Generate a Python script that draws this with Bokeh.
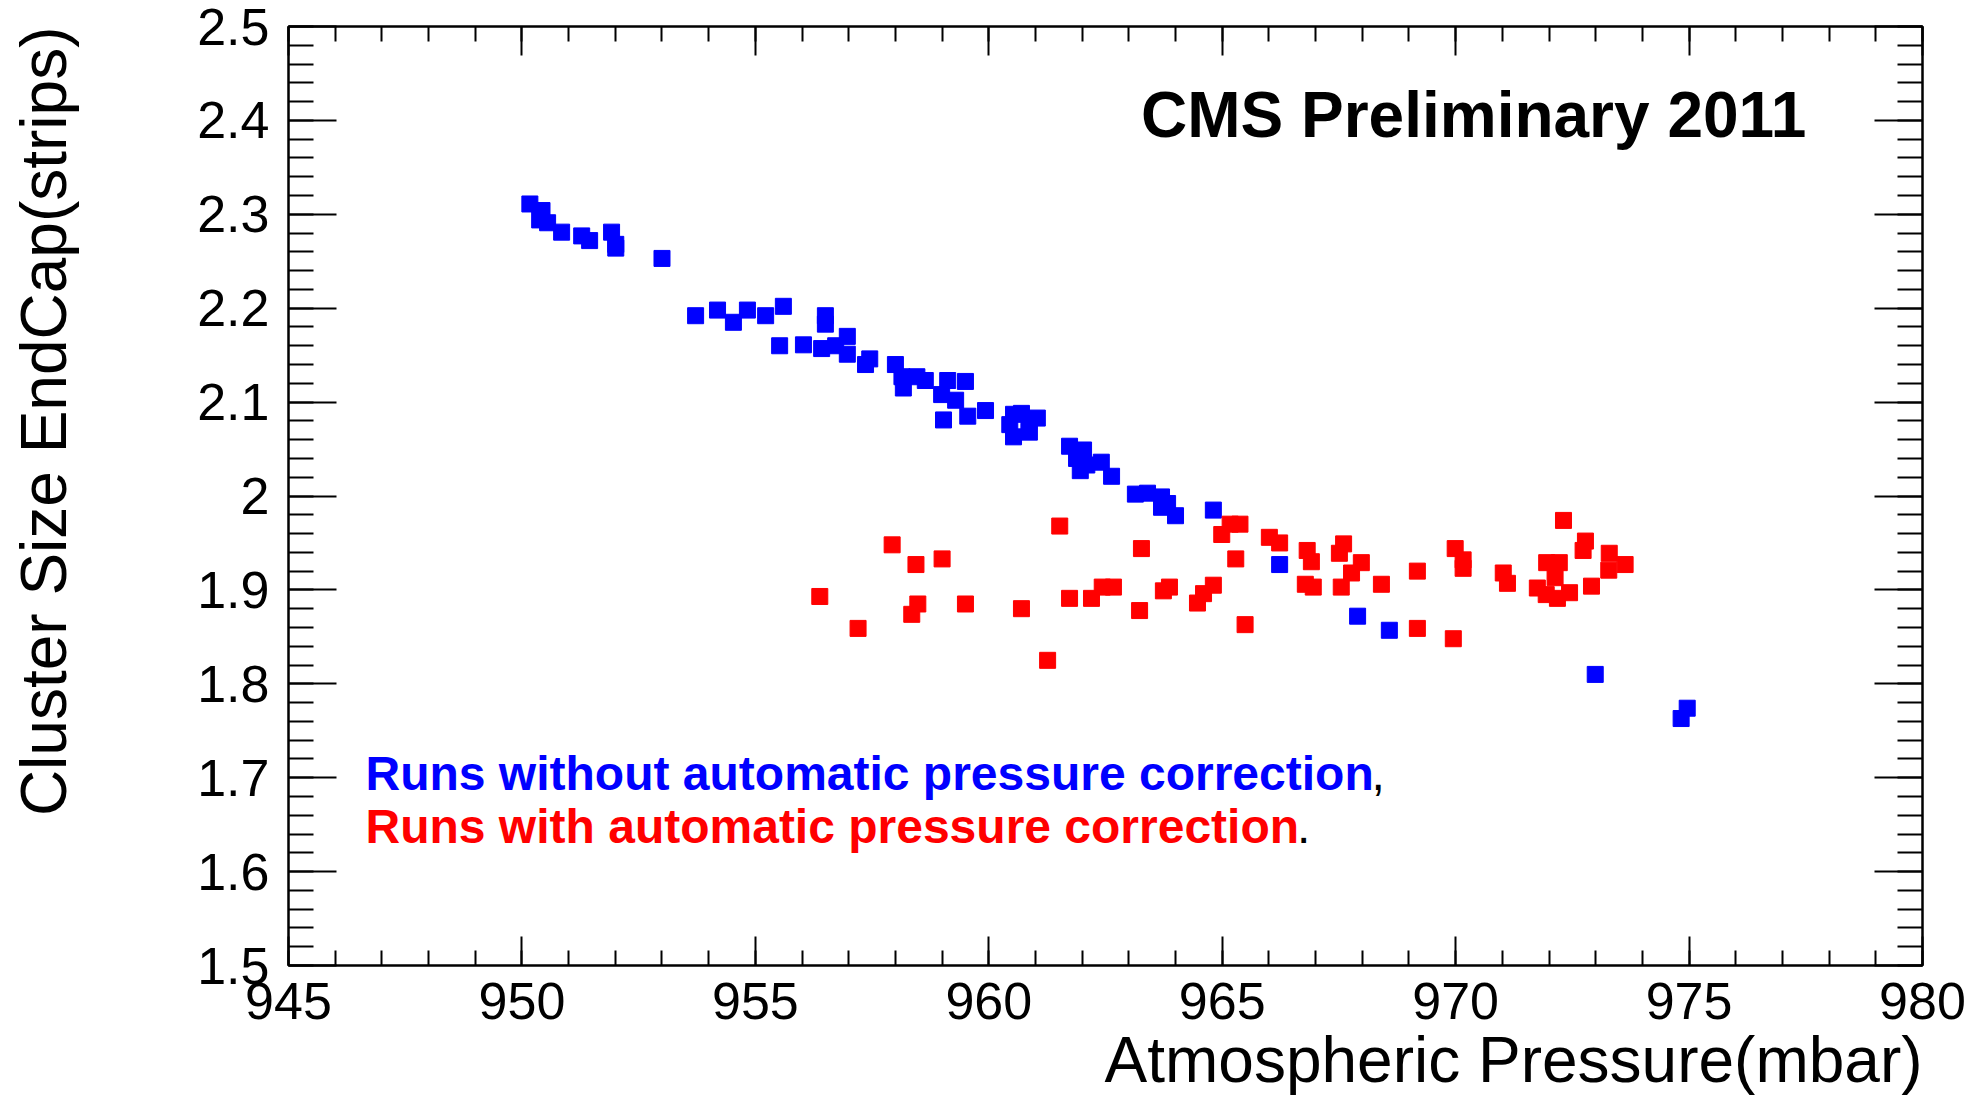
import numpy as np
from bokeh.plotting import figure
from bokeh.models import LinearAxis, FixedTicker, Label, CustomJSTickFormatter, Range1d, Title
from bokeh.embed import file_html
from bokeh.resources import INLINE

# ---- data ----
blue_x = [950.17, 950.43, 950.38, 950.55, 950.85, 951.28, 951.45, 951.92, 952.01, 952.01,
          953.00, 953.72, 954.19, 954.53, 954.83, 955.22, 955.60, 955.52, 956.03, 956.50,
          956.50, 956.42, 956.72, 956.97, 956.97, 957.45, 957.36, 958.00, 958.14, 958.17,
          958.46, 958.64, 959.12, 959.50, 958.99, 959.29, 959.55, 959.03, 959.93, 960.53,
          960.70, 961.04, 960.45, 960.86, 960.53, 960.87, 961.73, 962.03, 961.88, 961.96,
          962.10, 962.41, 962.63, 963.14, 963.40, 963.70, 963.83, 963.70, 964.00, 964.81,
          966.23, 967.90, 968.58, 972.99, 974.96, 974.83]
blue_y = [2.311, 2.304, 2.294, 2.291, 2.281, 2.277, 2.272, 2.281, 2.268, 2.264,
          2.253, 2.192, 2.198, 2.185, 2.198, 2.192, 2.202, 2.160, 2.161, 2.192,
          2.183, 2.157, 2.160, 2.170, 2.151, 2.146, 2.140, 2.140, 2.127, 2.115,
          2.127, 2.123, 2.123, 2.122, 2.108, 2.102, 2.085, 2.081, 2.091, 2.087,
          2.088, 2.083, 2.076, 2.079, 2.063, 2.068, 2.053, 2.049, 2.040, 2.027,
          2.033, 2.036, 2.021, 2.002, 2.003, 1.999, 1.992, 1.988, 1.979, 1.985,
          1.927, 1.872, 1.857, 1.810, 1.774, 1.763]

red_x = [956.38, 957.20, 957.93, 958.44, 959.00, 958.48, 958.35, 959.50, 960.70, 961.26,
         961.52, 961.73, 962.20, 962.43, 962.67, 963.23, 963.27, 963.74, 963.87, 964.47,
         964.60, 964.81, 965.49, 965.29, 964.99, 965.17, 965.38, 966.01, 966.23, 966.82,
         966.91, 966.78, 966.95, 967.60, 967.51, 967.98, 967.77, 967.55, 968.41, 969.18,
         969.18, 969.99, 970.16, 970.16, 969.95, 971.02, 971.11, 971.95, 972.22, 972.13,
         971.75, 971.94, 972.18, 972.44, 972.31, 972.78, 972.73, 973.29, 973.63, 973.28,
         972.91]
red_y = [1.893, 1.859, 1.948, 1.927, 1.933, 1.885, 1.874, 1.885, 1.880, 1.825,
         1.968, 1.891, 1.891, 1.903, 1.903, 1.878, 1.944, 1.899, 1.903, 1.886,
         1.896, 1.905, 1.863, 1.933, 1.959, 1.970, 1.970, 1.956, 1.950, 1.942,
         1.930, 1.906, 1.903, 1.949, 1.939, 1.929, 1.918, 1.903, 1.906, 1.920,
         1.859, 1.944, 1.932, 1.923, 1.848, 1.918, 1.907, 1.929, 1.929, 1.913,
         1.902, 1.895, 1.891, 1.897, 1.974, 1.952, 1.942, 1.939, 1.927, 1.921,
         1.904]

x_ticks = [945, 950, 955, 960, 965, 970, 975, 980]
y_ticks = [1.5, 1.6, 1.7, 1.8, 1.9, 2.0, 2.1, 2.2, 2.3, 2.4, 2.5]
x_title = "Atmospheric Pressure(mbar)"
y_title = "Cluster Size EndCap(strips)"
header = "CMS Preliminary 2011"
blue_label = "Runs without automatic pressure correction"
red_label = "Runs with automatic pressure correction"

FONT = "Liberation Sans"

x_minor = list(range(945, 981))
y_minor = [round(v, 2) for v in np.arange(1.5, 2.5001, 0.02)]

p = figure(width=1980, height=1096, output_backend="svg", toolbar_location=None,
           x_range=Range1d(945, 980), y_range=Range1d(1.5, 2.5),
           x_axis_type=None, y_axis_type=None,
           min_border_left=288, min_border_right=58, min_border_top=26, min_border_bottom=131)
p.background_fill_color = "white"
p.border_fill_color = "white"
p.outline_line_color = "black"
p.outline_line_width = 2

num_fmt = CustomJSTickFormatter(code="return (Math.round(tick*10)/10).toString();")
blank_fmt = CustomJSTickFormatter(code="return '';")


def style_axis(ax, major_len, minor_len):
    ax.major_tick_in = major_len
    ax.major_tick_out = 0
    ax.minor_tick_in = minor_len
    ax.minor_tick_out = 0
    ax.axis_line_color = "black"
    ax.axis_line_width = 2
    ax.major_tick_line_width = 2
    ax.minor_tick_line_width = 2
    ax.major_tick_line_color = "black"
    ax.minor_tick_line_color = "black"
    ax.major_label_text_font = FONT
    ax.major_label_text_font_size = "52px"
    ax.major_label_text_color = "black"


xb = LinearAxis(ticker=FixedTicker(ticks=x_ticks, minor_ticks=x_minor), formatter=num_fmt)
style_axis(xb, 29, 15)
xb.major_label_standoff = 17
p.add_layout(xb, "below")

xt = LinearAxis(ticker=FixedTicker(ticks=x_ticks, minor_ticks=x_minor), formatter=blank_fmt)
style_axis(xt, 29, 15)
xt.major_label_standoff = 0
p.add_layout(xt, "above")

yl = LinearAxis(ticker=FixedTicker(ticks=y_ticks, minor_ticks=y_minor), formatter=num_fmt)
style_axis(yl, 48, 25)
yl.major_label_standoff = 19
p.add_layout(yl, "left")

# invisible spacer (outward tick extent only) between y tick labels and y title
spacer = LinearAxis(ticker=FixedTicker(ticks=y_ticks), formatter=blank_fmt)
spacer.axis_line_color = None
spacer.major_tick_line_color = None
spacer.minor_tick_line_color = None
spacer.major_tick_in = 0
spacer.major_tick_out = 115
spacer.minor_tick_in = 0
spacer.minor_tick_out = 0
spacer.major_label_standoff = 0
p.add_layout(spacer, "left")

yr = LinearAxis(ticker=FixedTicker(ticks=y_ticks, minor_ticks=y_minor), formatter=blank_fmt)
style_axis(yr, 48, 25)
yr.major_label_standoff = 0
p.add_layout(yr, "right")

# axis titles, ROOT style: aligned to the end of each axis
p.add_layout(Title(text=x_title, align="right", text_font=FONT, text_font_size="64px",
                   text_font_style="normal", text_color="black", standoff=0), "below")
p.add_layout(Title(text=y_title, align="right", text_font=FONT, text_font_size="64px",
                   text_font_style="normal", text_color="black", standoff=0), "left")

p.scatter(blue_x, blue_y, marker="square", size=16, fill_color="#0000ff", line_color="#0000ff")
p.scatter(red_x, red_y, marker="square", size=16, fill_color="#ff0000", line_color="#ff0000")

p.add_layout(Label(x=963.26, y=2.406, text=header, text_font=FONT, text_font_size="64px",
                   text_font_style="bold", text_color="black", text_baseline="alphabetic"))
p.add_layout(Label(x=946.65, y=1.704, text=blue_label, text_font=FONT, text_font_size="48px",
                   text_font_style="bold", text_color="#0000ff", text_baseline="alphabetic"))
p.add_layout(Label(x=968.2, y=1.704, text=",", text_font=FONT, text_font_size="48px",
                   text_color="black", text_baseline="alphabetic"))
p.add_layout(Label(x=946.65, y=1.648, text=red_label, text_font=FONT, text_font_size="48px",
                   text_font_style="bold", text_color="#ff0000", text_baseline="alphabetic"))
p.add_layout(Label(x=966.6, y=1.648, text=".", text_font=FONT, text_font_size="48px",
                   text_color="black", text_baseline="alphabetic"))

open("out.html", "w").write(file_html(p, INLINE))
